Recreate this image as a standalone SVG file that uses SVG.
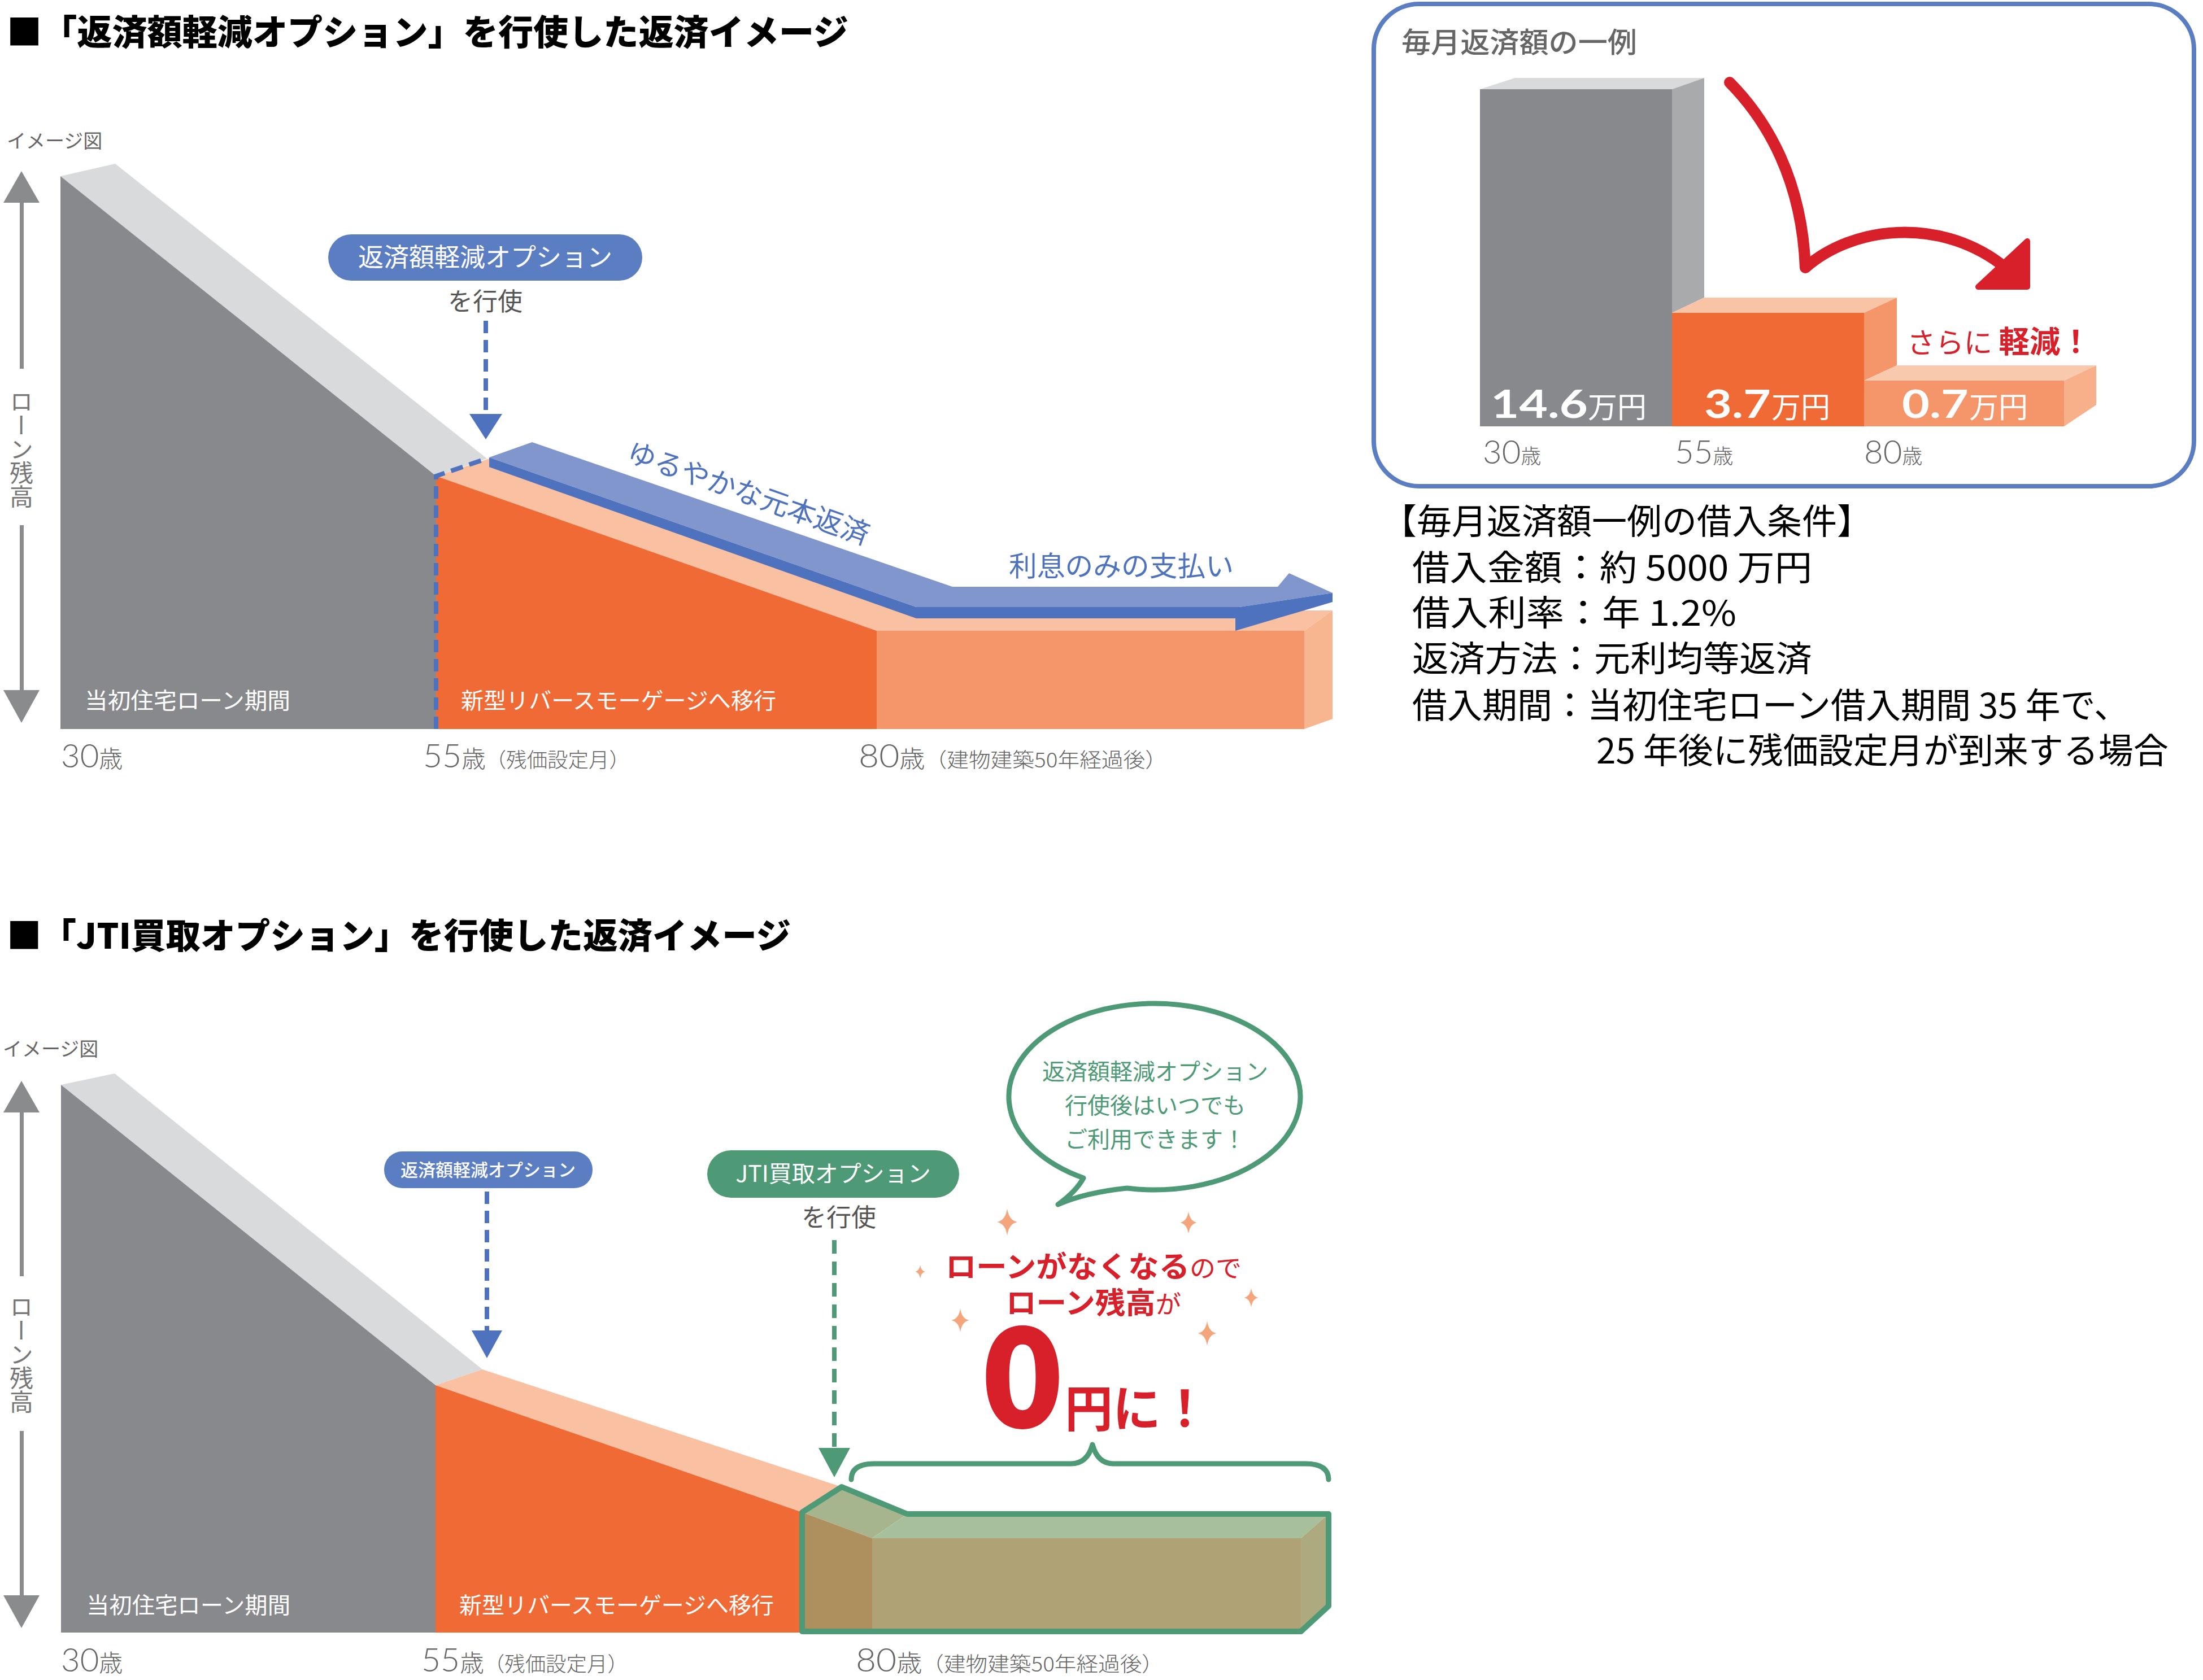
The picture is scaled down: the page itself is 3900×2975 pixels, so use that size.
<svg xmlns="http://www.w3.org/2000/svg" width="3900" height="2975" viewBox="0 0 3900 2975">
<defs>
<style>
text{font-family:'Noto Sans CJK JP','Noto Sans',sans-serif}
.ttl{font-weight:900;font-size:62px;fill:#000}
.note{font-size:34px;fill:#666}
.vert{font-size:42px;fill:#777;writing-mode:vertical-rl}
.inlbl{font-size:40px;fill:#fff}
.axis{fill:#666;font-weight:300;font-size:36px}
.num{font-family:Lato,'Noto Sans',sans-serif;font-weight:300;font-size:58px}
.val{font-family:Lato,'Noto Sans',sans-serif;font-weight:700;font-size:68px;fill:#fff}
.man{font-size:52px;fill:#fff}
.dashB{fill:none;stroke:#4E72BE;stroke-width:8;stroke-dasharray:22 12}
.dashG{fill:none;stroke:#4E9A76;stroke-width:8;stroke-dasharray:24 14}
.cond{font-size:62px;fill:#000}
.axisarrow{fill:#8A8B8D}
.bub{font-size:40px;fill:#4E9A76;text-anchor:middle}
.red{fill:#D7202A}
</style>
<path id="star" d="M0,-1 Q0.12,-0.12 0.75,0 Q0.12,0.12 0,1 Q-0.12,0.12 -0.75,0 Q-0.12,-0.12 0,-1Z" fill="#F4A57C"/>
</defs>
<rect width="3900" height="2975" fill="#fff"/>

<!-- ===== Top chart ===== -->
<g id="title1"><text class="ttl" x="12" y="80" textLength="1490" lengthAdjust="spacingAndGlyphs">■「返済額軽減オプション」を行使した返済イメージ</text></g>
<g id="note1"><text class="note" x="12" y="262">イメージ図</text></g>
<g id="yaxis1">
<polygon class="axisarrow" points="6,359 70,359 38,303"/>
<rect class="axisarrow" x="35" y="355" width="7" height="298"/>
<text class="vert" x="38" y="690">ローン残高</text>
<rect class="axisarrow" x="35" y="930" width="7" height="295"/>
<polygon class="axisarrow" points="6,1222 70,1222 38,1280"/>
</g>
<g id="chart1-gray">
<polygon points="107,312 204,290 862,812 772,843" fill="#D9DADC"/>
<polygon points="107,312 772,843 772,1291 107,1291" fill="#88898C"/>
<text class="inlbl" x="150" y="1255" textLength="364" lengthAdjust="spacingAndGlyphs">当初住宅ローン期間</text>
</g>
<g id="chart1-orange">
<polygon points="772,843 866,812 1622,1080 2359,1081 2309,1117 1552,1117" fill="#F9C1A2"/>
<polygon points="772,843 1552,1117 1552,1291 772,1291" fill="#F06A35"/>
<polygon points="1552,1117 2309,1117 2309,1291 1552,1291" fill="#F4956A"/>
<polygon points="2309,1117 2359,1081 2359,1273 2309,1291" fill="#F8B690"/>
<text class="inlbl" x="816" y="1255" textLength="558" lengthAdjust="spacingAndGlyphs">新型リバースモーゲージへ移行</text>
</g>
<g id="ribbon">
<polygon points="866,810 942,783 1686,1039 2262,1039 2282,1015 2359,1050 2194,1075 1622,1075" fill="#8096CC"/>
<polygon points="866,810 1622,1075 2194,1075 2359,1050 2359,1066 2187,1117 2187,1095 1622,1095 866,827" fill="#4F72BF"/>
<text transform="translate(1325,874) rotate(19.5)" x="0" y="17" font-size="50" fill="#4E72BE" text-anchor="middle">ゆるやかな元本返済</text>
<text x="1786" y="1020" font-size="49" fill="#4E72BE" textLength="398" lengthAdjust="spacingAndGlyphs">利息のみの支払い</text>
</g>
<g id="pill1">
<rect x="581" y="415" width="556" height="82" rx="41" fill="#5B7DC1"/>
<text x="859" y="472" font-size="45" fill="#fff" text-anchor="middle">返済額軽減オプション</text>
<text x="859" y="550" font-size="44" fill="#555" text-anchor="middle">を行使</text>
</g>
<g id="xaxis1">
<text class="axis" x="108" y="1359"><tspan class="num">30</tspan><tspan font-size="42">歳</tspan></text>
<text class="axis" x="749" y="1359" textLength="366" lengthAdjust="spacingAndGlyphs"><tspan class="num">55</tspan><tspan font-size="42">歳</tspan>（残価設定月）</text>
<text class="axis" x="1520" y="1359" textLength="546" lengthAdjust="spacingAndGlyphs"><tspan class="num">80</tspan><tspan font-size="42">歳</tspan>（建物建築50年経過後）</text>
</g>

<!-- ===== Top-right panel ===== -->
<g id="panel">
<rect x="2432" y="7" width="1452" height="854" rx="80" fill="#fff" stroke="#5B7DC1" stroke-width="8"/>
<text x="2481" y="93" font-size="50" fill="#666" font-weight="500" textLength="417" lengthAdjust="spacingAndGlyphs">毎月返済額の一例</text>
<g id="bar30">
<polygon points="2620,158 2682,138 3017,138 2960,158" fill="#D9DADC"/>
<polygon points="2960,158 3017,138 3017,527 2960,554" fill="#A9AAAC"/>
<rect x="2620" y="158" width="340" height="597" fill="#88898C"/>
<text class="val" x="2639" y="740" textLength="172" lengthAdjust="spacingAndGlyphs">14.6</text>
<text class="man" x="2811" y="740">万円</text>
</g>
<g id="bar55">
<polygon points="2960,554 3017,527 3358,527 3300,554" fill="#F9C4A5"/>
<polygon points="3300,554 3358,527 3358,647 3300,674" fill="#F4956A"/>
<rect x="2960" y="554" width="340" height="201" fill="#F06A35"/>
<text class="val" x="3017" y="740" textLength="118" lengthAdjust="spacingAndGlyphs">3.7</text>
<text class="man" x="3136" y="740">万円</text>
</g>
<g id="bar80">
<polygon points="3300,674 3358,647 3711,647 3654,674" fill="#F9C9AD"/>
<polygon points="3654,674 3711,647 3711,717 3654,755" fill="#F7B08A"/>
<rect x="3300" y="674" width="354" height="81" fill="#F4956A"/>
<text class="val" x="3367" y="740" textLength="118" lengthAdjust="spacingAndGlyphs">0.7</text>
<text class="man" x="3486" y="740">万円</text>
</g>
<text class="axis" x="2625" y="821" font-size="46"><tspan class="num" font-size="60">30</tspan>歳</text>
<text class="axis" x="2965" y="821" font-size="46"><tspan class="num" font-size="60">55</tspan>歳</text>
<text class="axis" x="3300" y="821" font-size="46"><tspan class="num" font-size="60">80</tspan>歳</text>
<text class="red" x="3376" y="625" textLength="326" lengthAdjust="spacingAndGlyphs"><tspan font-size="50">さらに </tspan><tspan font-size="54" font-weight="700">軽減！</tspan></text>
</g>

<g id="conditions">
<text class="cond" x="2446" y="946">【毎月返済額一例の借入条件】</text>
<text class="cond" x="2500" y="1028" textLength="708" lengthAdjust="spacingAndGlyphs">借入金額：約 5000 万円</text>
<text class="cond" x="2500" y="1108" textLength="574" lengthAdjust="spacingAndGlyphs">借入利率：年 1.2%</text>
<text class="cond" x="2500" y="1189" textLength="708" lengthAdjust="spacingAndGlyphs">返済方法：元利均等返済</text>
<text class="cond" x="2500" y="1272">借入期間：当初住宅ローン借入期間 35 年で、</text>
<text class="cond" x="2826" y="1352">25 年後に残価設定月が到来する場合</text>
</g>

<!-- ===== Bottom chart ===== -->
<g id="title2"><text class="ttl" x="12" y="1680" textLength="1388" lengthAdjust="spacingAndGlyphs">■「JTI買取オプション」を行使した返済イメージ</text></g>
<g id="note2"><text class="note" x="5" y="1870">イメージ図</text></g>
<g id="yaxis2">
<polygon class="axisarrow" points="6,1970 70,1970 38,1914"/>
<rect class="axisarrow" x="35" y="1966" width="7" height="294"/>
<text class="vert" x="38" y="2293">ローン残高</text>
<rect class="axisarrow" x="35" y="2534" width="7" height="294"/>
<polygon class="axisarrow" points="6,2825 70,2825 38,2883"/>
</g>
<g id="chart2-gray">
<polygon points="108,1921 203,1901 854,2425 771,2453" fill="#D9DADC"/>
<polygon points="108,1921 771,2453 771,2891 108,2891" fill="#88898C"/>
<text class="inlbl" x="153" y="2857" textLength="361" lengthAdjust="spacingAndGlyphs">当初住宅ローン期間</text>
</g>
<g id="chart2-orange">
<polygon points="771,2453 854,2425 1490,2633 1420,2678" fill="#F9C1A2"/>
<polygon points="771,2453 1420,2678 1420,2891 771,2891" fill="#F06A35"/>
<text class="inlbl" x="813" y="2857" textLength="557" lengthAdjust="spacingAndGlyphs">新型リバースモーゲージへ移行</text>
</g>
<g id="greenbox">
<polygon points="1420,2678 1490,2633 1606,2681 1544,2724" fill="#A6B58E"/>
<polygon points="1606,2681 2352,2681 2303,2724 1544,2724" fill="#A8BF9B"/>
<polygon points="1420,2678 1544,2724 1544,2891 1420,2891" fill="#AE8F5E"/>
<rect x="1544" y="2724" width="759" height="167" fill="#AFA275"/>
<polygon points="2303,2724 2352,2681 2352,2844 2303,2891" fill="#ADAA80"/>
<path d="M1420,2889 V2678 L1490,2633 L1606,2681 H2352 V2844 L2303,2889 Z" fill="none" stroke="#4E9A76" stroke-width="10" stroke-linejoin="round"/>
</g>
<g id="pill2">
<rect x="680" y="2039" width="369" height="65" rx="32" fill="#5B7DC1"/>
<text x="864" y="2083" font-size="31" font-weight="500" fill="#fff" text-anchor="middle">返済額軽減オプション</text>
</g>
<g id="pill3">
<rect x="1252" y="2037" width="446" height="84" rx="42" fill="#4E9A76"/>
<text x="1475" y="2093" font-size="41" fill="#fff" text-anchor="middle">JTI買取オプション</text>
<text x="1485" y="2172" font-size="44" fill="#555" text-anchor="middle">を行使</text>
</g>
<g id="bubble">
<path d="M1918,2086 A258,165 0 1,1 1995,2104 Q1920,2112 1873,2133 Q1905,2110 1918,2086 Z" fill="#fff" stroke="#4E9A76" stroke-width="9" stroke-linejoin="round"/>
<text class="bub" x="2045" y="1912">返済額軽減オプション</text>
<text class="bub" x="2045" y="1972">行使後はいつでも</text>
<text class="bub" x="2045" y="2032">ご利用できます！</text>
</g>
<g id="zero">
<text class="red" x="1674" y="2262" textLength="524" lengthAdjust="spacingAndGlyphs"><tspan font-size="52" font-weight="700">ローンがなくなる</tspan><tspan font-size="44">ので</tspan></text>
<text class="red" x="1781" y="2326" textLength="310" lengthAdjust="spacingAndGlyphs"><tspan font-size="52" font-weight="700">ローン残高</tspan><tspan font-size="44">が</tspan></text>
<text class="red" x="1810" y="2528" font-family="Lato,'Noto Sans',sans-serif" font-size="245" font-weight="900" text-anchor="middle">0</text>
<text class="red" x="1885" y="2526" font-size="88" font-weight="700" textLength="255" lengthAdjust="spacingAndGlyphs">円に！</text>
<use href="#star" transform="translate(1783,2164) scale(24)"/>
<use href="#star" transform="translate(2104,2165) scale(20)"/>
<use href="#star" transform="translate(1629,2252) scale(12)"/>
<use href="#star" transform="translate(2215,2298) scale(17)"/>
<use href="#star" transform="translate(1700,2338) scale(21)"/>
<use href="#star" transform="translate(2137,2361) scale(22)"/>
</g>
<g id="xaxis2">
<text class="axis" x="108" y="2960"><tspan class="num">30</tspan><tspan font-size="42">歳</tspan></text>
<text class="axis" x="746" y="2960" textLength="366" lengthAdjust="spacingAndGlyphs"><tspan class="num">55</tspan><tspan font-size="42">歳</tspan>（残価設定月）</text>
<text class="axis" x="1515" y="2960" textLength="545" lengthAdjust="spacingAndGlyphs"><tspan class="num">80</tspan><tspan font-size="42">歳</tspan>（建物建築50年経過後）</text>
</g>

<!-- ===== Connectors ===== -->
<g id="connectors">
<path class="dashB" d="M772,1291 V843 L862,812"/>
<path class="dashB" d="M860,568 V735"/>
<polygon points="831,733 889,733 860,778" fill="#4E72BE"/>
<path class="dashB" d="M862,2110 V2358"/>
<polygon points="835,2356 889,2356 862,2405" fill="#4E72BE"/>
<path class="dashG" d="M1477,2196 V2566"/>
<polygon points="1449,2564 1505,2564 1477,2616" fill="#4E9A76"/>
<path d="M1507,2620 Q1507,2592 1548,2592 L1896,2592 Q1925,2592 1934,2558 Q1943,2592 1971,2592 L2311,2592 Q2352,2592 2352,2620" fill="none" stroke="#4E9A76" stroke-width="9" stroke-linecap="round" stroke-linejoin="round"/>
<path d="M3062,146 C3130,215 3190,320 3196,474 C3280,400 3430,385 3540,466" fill="none" stroke="#D7202A" stroke-width="20" stroke-linecap="round" stroke-linejoin="round"/>
<polygon points="3502,508 3589,508 3589,427" fill="#D7202A" stroke="#D7202A" stroke-width="10" stroke-linejoin="round"/>
</g>
</svg>
